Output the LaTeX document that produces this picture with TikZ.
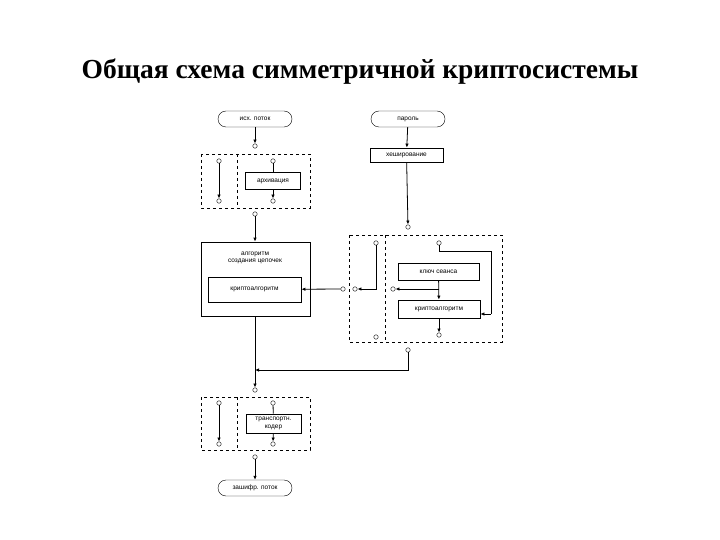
\documentclass[tikz,border=0pt]{standalone}
\usepackage{fontspec}
\setmainfont{Liberation Serif}
\newfontfamily\diagsf{Liberation Sans}
\usetikzlibrary{arrows.meta}
\begin{document}
\begin{tikzpicture}[x=1pt,y=-1pt,
  box/.style={draw,thick,minimum width=#1,minimum height=17pt,inner sep=1pt,font=\diagsf\fontsize{6.5}{7.5}\selectfont,align=center},
  term/.style={draw,rounded corners=8pt,minimum width=74pt,minimum height=16pt,inner sep=1pt,font=\diagsf\fontsize{6.5}{7.5}\selectfont},
  dbox/.style={draw,dashed},
  port/.style={circle,draw,inner sep=0pt,minimum size=4.5pt,fill=white},
  ln/.style={draw,thick},
  ar/.style={thick,-{Latex[length=4pt,width=3.5pt]}}]
\useasboundingbox (0,0) rectangle (720,540);
\node[font=\bfseries\fontsize{27.5}{32}\selectfont] (title) at (360,72) {Общая схема симметричной криптосистемы};
% left column
\node[term] (src) at (255,119) {исх. поток};
\node[port] (p1) at (255,146) {};
\draw[dbox] (201,154) rectangle (310,208); \draw[dbox] (237,154) -- (237,208);
\node[port] (a1) at (219,161) {}; \node[port] (a2) at (219,201) {};
\node[port] (b1) at (273,161) {}; \node[port] (b2) at (273,201) {};
\node[box=55pt] (arch) at (273,181) {архивация};
\node[port] (p2) at (255,214) {};
\node[draw,thick,minimum width=109pt,minimum height=74pt] (alg) at (255.5,279) {};
\node[font=\diagsf\fontsize{6.5}{7.5}\selectfont,align=center] (algt) at (255,258) {алгоритм\\создания цепочек};
\node[box=93pt,minimum height=25pt] (k1) at (254.5,289.5) {криптоалгоритм};
\node[port] (p3) at (255,390) {};
\draw[dbox] (201,397) rectangle (310,450); \draw[dbox] (237,397) -- (237,450);
\node[port] (c1) at (219,403) {}; \node[port] (c2) at (219,444) {};
\node[port] (d1) at (273,403) {}; \node[port] (d2) at (273,444) {};
\node[box=55pt,minimum height=19pt] (tk) at (273.5,423.5) {транспортн.\\кодер};
\node[port] (p4) at (255,457) {};
\node[term] (dst) at (255,488) {зашифр. поток};
% right column
\node[term] (pw) at (408,119) {пароль};
\node[box=73pt,minimum height=14pt] (hash) at (406.5,155) {хеширование};
\node[port] (p5) at (408,227) {};
\draw[dbox] (349,235) rectangle (502,342); \draw[dbox] (385,235) -- (385,342);
\node[port] (e1) at (376,243) {}; \node[port] (e2) at (376,337) {};
\node[port] (f1) at (439,243) {}; \node[port] (f2) at (439,335) {};
\node[box=81pt] (ks) at (438.5,271.5) {ключ сеанса};
\node[box=82pt,minimum height=18pt] (k2) at (439,309) {криптоалгоритм};
\node[port] (g1) at (343,289) {}; \node[port] (g2) at (355,289) {};
\node[port] (g3) at (393,289) {};
\node[port] (p6) at (408,350) {};
\coordinate (j1) at (255,370);
\coordinate (j2) at (439,289);
% connectors
\draw[ar] (src) -- (p1);
\draw[ar] (a1) -- (a2);
\draw[ln] (b1) -- (arch); \draw[ar] (arch) -- (b2);
\draw[ar] (p2) -- (alg.north -| p2);
\draw[ar] (pw) -- (hash);
\draw[ar] (hash) -- (p5);
\draw[ar] (e1) |- (g2);
\draw[ar] (g1) -- (k1);
\draw[ln] (f1) -- (439,251) -- (491,251) -- (491,314) coordinate (j3);
\draw[ar] (j3) -- (k2.east |- j3);
\draw[ar] (ks) -- (k2);
\draw[ar] (j2) -- (g3);
\draw[ar] (k2) -- (f2);
\draw[ar] (alg.south -| p3) -- (p3);
\draw[ar] (p6) |- (j1);
\draw[ar] (c1) -- (c2);
\draw[ln] (d1) -- (tk); \draw[ar] (tk) -- (d2);
\draw[ar] (p4) -- (dst);
\end{tikzpicture}
\end{document}
